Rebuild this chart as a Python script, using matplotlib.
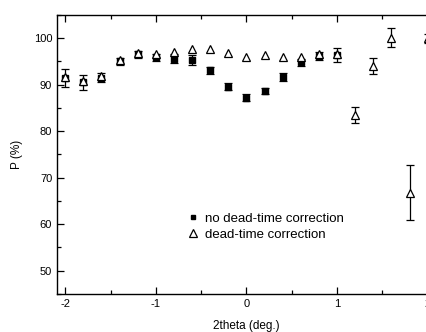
import matplotlib
matplotlib.use("Agg")
import matplotlib.pyplot as plt
from matplotlib.ticker import MultipleLocator

plt.rcParams['font.family'] = ['Liberation Sans', 'DejaVu Sans']
plt.rcParams['axes.unicode_minus'] = False

x_sq = [-2.0, -1.8, -1.6, -1.4, -1.2, -1.0, -0.8, -0.6, -0.4, -0.2, 0.0, 0.2, 0.4, 0.6, 0.8, 1.0]
y_sq = [91.4, 90.5, 91.5, 95.0, 96.5, 95.9, 95.6, 95.3, 93.1, 89.6, 87.2, 88.6, 91.7, 94.8, 96.2, 96.3]
e_sq = [2.0, 1.6, 1.0, 0.8, 0.8, 0.8, 1.0, 1.0, 0.8, 0.8, 0.7, 0.7, 0.8, 0.8, 0.8, 1.5]

x_tr = [-2.0, -1.8, -1.6, -1.4, -1.2, -1.0, -0.8, -0.6, -0.4, -0.2, 0.0, 0.2, 0.4, 0.6, 0.8, 1.0, 1.2, 1.4, 1.6, 1.8, 2.0]
y_tr = [91.7, 90.8, 91.8, 95.3, 96.8, 96.5, 97.1, 97.6, 97.6, 96.9, 95.9, 96.4, 95.9, 96.0, 96.5, 96.7, 83.4, 94.1, 100.1, 66.8, 100.0]
x_tr_err = [1.2, 1.4, 1.6, 1.8, 2.0]
y_tr_err = [83.4, 94.1, 100.1, 66.8, 100.0]
e_tr = [1.7, 1.7, 2.0, 5.9, 1.0]

fig = plt.figure(figsize=(4.26, 3.32), dpi=100)
ax = fig.add_axes([0.134, 0.1145, 0.889, 0.8405])

ax.errorbar(x_sq, y_sq, yerr=e_sq, fmt='none', ecolor='black', elinewidth=0.9, capsize=2.8, capthick=0.9, zorder=2)
ax.errorbar(x_tr_err, y_tr_err, yerr=e_tr, fmt='none', ecolor='black', elinewidth=0.9, capsize=2.8, capthick=0.9, zorder=2)
ax.plot(x_sq, y_sq, 's', color='black', ms=4.0, label='no dead-time correction', zorder=3)
ax.plot(x_tr, y_tr, '^', mfc='white', mec='black', mew=0.9, ms=6, label='dead-time correction', zorder=4)

ax.set_xlim(-2.09, 2.09)
ax.set_ylim(45, 105)
ax.xaxis.set_major_locator(MultipleLocator(1))
ax.xaxis.set_minor_locator(MultipleLocator(0.5))
ax.yaxis.set_major_locator(MultipleLocator(10))
ax.yaxis.set_minor_locator(MultipleLocator(5))
ax.set_yticks([50, 60, 70, 80, 90, 100])
ax.tick_params(which='both', direction='in', top=True, right=True, labelsize=8, width=0.9)
ax.tick_params(which='major', length=5)
ax.tick_params(which='minor', length=3)
for s in ax.spines.values():
    s.set_linewidth(1.0)

ax.set_xlabel('2theta (deg.)', fontsize=8.5, labelpad=8)
ax.set_ylabel('P (%)', fontsize=8.5, labelpad=8)

leg = ax.legend(loc='upper left', bbox_to_anchor=(0.33, 0.31), frameon=False, fontsize=9.5,
                handlelength=0.8, handletextpad=0.56, labelspacing=0.25, borderaxespad=0,
                markerscale=0.85)

fig.savefig('out.png', dpi=100)
